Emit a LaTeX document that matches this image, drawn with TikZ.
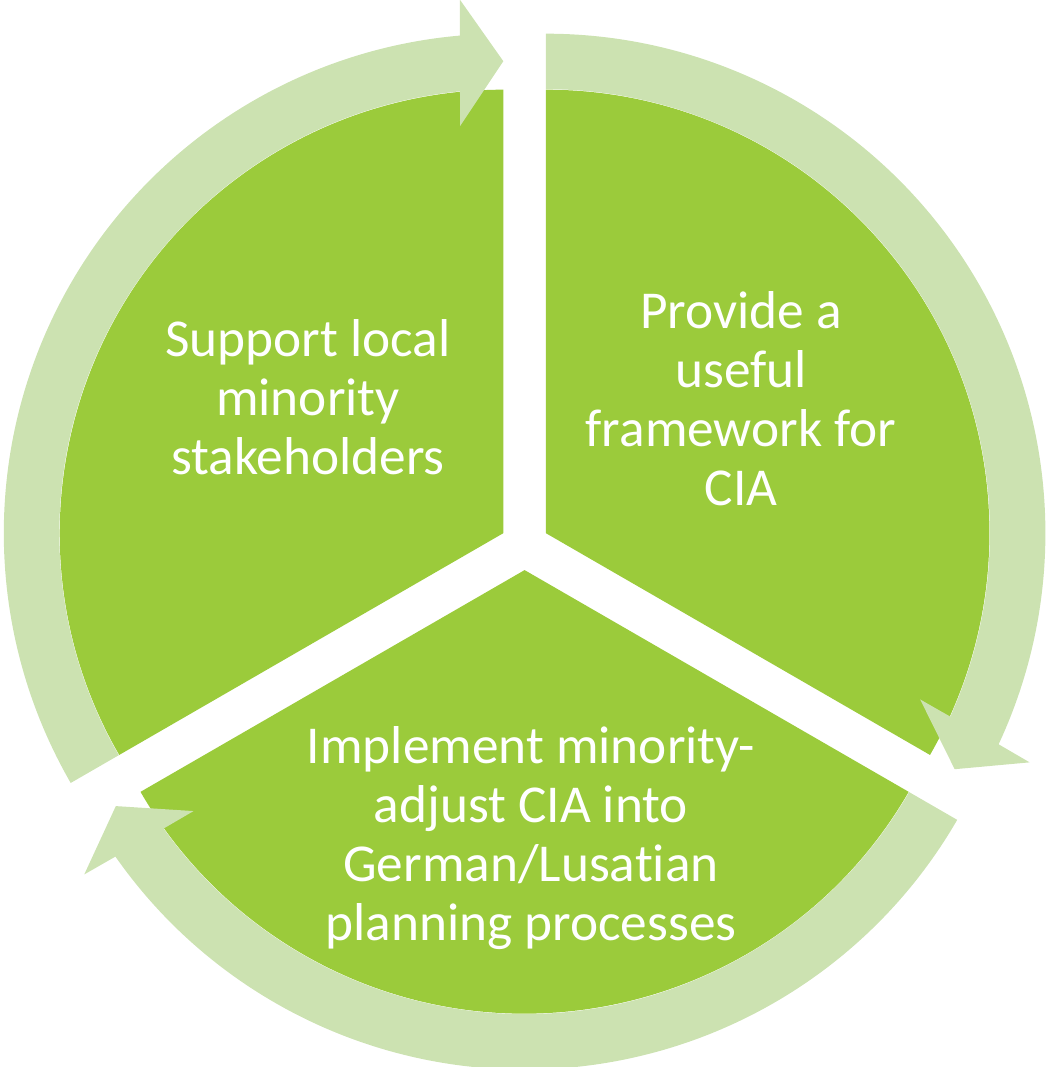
\documentclass[tikz,border=0pt]{standalone}
\usepackage{fontspec}
\setmainfont{Carlito}[Ligatures=NoCommon]
\definecolor{segdark}{HTML}{9BCB3B}
\definecolor{seglight}{HTML}{CCE2B1}
\newcommand\ringarrow[3]{%
  \begin{scope}[shift={(#1)}]
    \pgfmathsetmacro\rkIn{#3+5.6}%
    \pgfmathsetmacro\rkWi{#3+6.05}%
    \pgfmathsetmacro\rkOut{#3+5.0}%
    \pgfmathsetmacro\rkWo{#3+4.65}%
    \fill[ringarrow] (#2:444) arc[start angle=#2, end angle=\rkIn, radius=444]
      -- (\rkWi:409.5) -- (#3:472) -- (\rkWo:535.3) -- (\rkOut:499.5)
      arc[start angle=\rkOut, end angle=#2, radius=499.5] -- cycle;
  \end{scope}}
\begin{document}
\begin{tikzpicture}[x=1pt,y=1pt,
  sector/.style={fill=segdark, draw=none},
  ringarrow/.style={fill=seglight, draw=none},
  seglabel/.style={text=white, align=center, anchor=base, inner sep=0pt,
    font=\fontsize{53.3}{59}\selectfont}]
\useasboundingbox (0,0) rectangle (1048,1067);
\coordinate (L) at (503.3,533.8);
\coordinate (R) at (545.9,533.8);
\coordinate (B) at (524.6,496.9);
% sectors
\fill[sector] (L) -- ++(210:443.5) arc[start angle=210, end angle=90, radius=443.5] -- cycle;
\fill[sector] (R) -- ++(90:443.5) arc[start angle=90, end angle=-30, radius=443.5] -- cycle;
\fill[sector] (B) -- ++(330:443.5) arc[start angle=330, end angle=210, radius=443.5] -- cycle;
% ring arrows
\ringarrow{L}{210}{90}
\ringarrow{R}{90}{-30}
\ringarrow{B}{330}{210}
% labels (base = baseline of last line)
\node[seglabel] (tl) at (308,592) {Support local\\minority\\stakeholders};
\node[seglabel] (tr) at (741,561) {Provide a\\useful\\framework for\\CIA};
\node[seglabel] (tb) at (531,126) {Implement minority-\\adjust CIA into\\German/Lusatian\\planning processes};
\end{tikzpicture}
\end{document}
